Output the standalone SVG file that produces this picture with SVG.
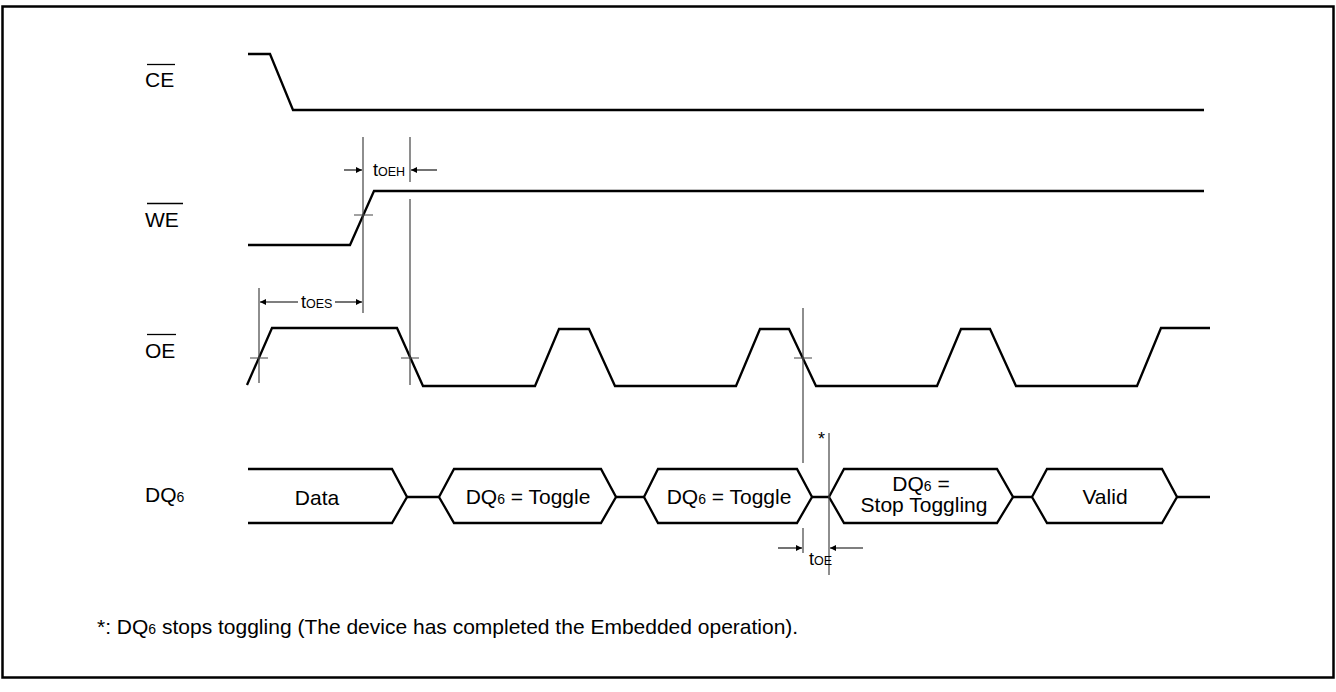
<svg xmlns="http://www.w3.org/2000/svg" width="1336" height="692" viewBox="0 0 1336 692">
<style>
  .sig{fill:none;stroke:#000;stroke-width:2.3;stroke-linejoin:miter}
  .thin{fill:none;stroke:#444;stroke-width:1.2}
  .arr{fill:none;stroke:#000;stroke-width:1.1}
  .lbl{font-family:"Liberation Sans",Arial,sans-serif;font-size:21px;fill:#000}
  .sub{font-size:14px}
  .t{font-family:"Liberation Sans",Arial,sans-serif;font-size:18px;fill:#000}
  .ts{font-size:12.5px}
  .ol{stroke:#000;stroke-width:1.3}
</style>
<defs>
  <marker id="ah" viewBox="0 0 10 10" refX="10" refY="5" markerWidth="8" markerHeight="6" markerUnits="userSpaceOnUse" orient="auto">
    <path d="M0,0 L10,5 L0,10 z" fill="#000"/>
  </marker>
</defs>
<rect x="2.5" y="6.5" width="1331" height="671" fill="#fff" stroke="#000" stroke-width="2.5"/>

<g id="label-ce">
  <text class="lbl" x="145" y="87">CE</text>
  <line class="ol" x1="147" y1="64.5" x2="175" y2="64.5"/>
</g>
<g id="label-we">
  <text class="lbl" x="145" y="227">WE</text>
  <line class="ol" x1="147" y1="203.5" x2="183" y2="203.5"/>
</g>
<g id="label-oe">
  <text class="lbl" x="145" y="358">OE</text>
  <line class="ol" x1="147" y1="334.5" x2="176" y2="334.5"/>
</g>
<g id="label-dq6">
  <text class="lbl" x="145" y="502">DQ<tspan class="sub">6</tspan></text>
</g>

<g id="wave-ce"><path class="sig" d="M248,54 H270 L293,110 H1204"/></g>
<g id="wave-we"><path class="sig" d="M248,245 H350 L374,191 H1204"/></g>
<g id="wave-oe"><path class="sig" d="M247,385 L272,328 H397 L423,386 H535 L559,329 H589 L615,386 H736 L760,329 H789 L816,386 H937 L961,329 H990 L1016,386 H1137 L1161,328 H1210"/></g>

<g id="bus-dq6">
  <g id="seg-data">
    <path class="sig" d="M248,469 H392 L407,497 L392,523 H248"/>
    <text class="lbl" x="317" y="505" text-anchor="middle">Data</text>
  </g>
  <g id="seg-toggle1">
    <path class="sig" d="M439,497 L454,469 H601 L616,497 L601,523 H454 Z"/>
    <text class="lbl" x="528" y="504" text-anchor="middle">DQ<tspan class="sub">6</tspan> = Toggle</text>
  </g>
  <g id="seg-toggle2">
    <path class="sig" d="M644,497 L658,469 H797 L812,497 L797,523 H658 Z"/>
    <text class="lbl" x="729" y="504" text-anchor="middle">DQ<tspan class="sub">6</tspan> = Toggle</text>
  </g>
  <g id="seg-stop">
    <path class="sig" d="M829,497 L844,469 H997 L1013,497 L997,523 H844 Z"/>
    <text class="lbl" x="921" y="491" text-anchor="middle">DQ<tspan class="sub">6</tspan> =</text>
    <text class="lbl" x="924" y="512" text-anchor="middle">Stop Toggling</text>
  </g>
  <g id="seg-valid">
    <path class="sig" d="M1032,497 L1047,469 H1162 L1177,497 L1162,523 H1047 Z"/>
    <text class="lbl" x="1105" y="504" text-anchor="middle">Valid</text>
  </g>
</g>

<g id="connectors">
  <path class="sig" d="M407,497 H439 M616,497 H644 M812,497 H829 M1013,497 H1032 M1177,497 H1210"/>
  <!-- timing reference lines -->
  <path class="thin" d="M363,137 V313 M410,137 V182 M410,199 V385 M259,288 V383 M803,308 V463 M803,528 V553 M829,433 V575"/>
  <!-- crossing ticks -->
  <path class="thin" d="M354,215 H373 M250,358 H268 M401,358 H419 M794,358 H812"/>
  <!-- arrows -->
  <line class="arr" x1="344" y1="170" x2="362" y2="170" marker-end="url(#ah)"/>
  <line class="arr" x1="437" y1="170" x2="411" y2="170" marker-end="url(#ah)"/>
  <line class="arr" x1="298" y1="302" x2="260" y2="302" marker-end="url(#ah)"/>
  <line class="arr" x1="335" y1="302" x2="362" y2="302" marker-end="url(#ah)"/>
  <line class="arr" x1="778" y1="548" x2="802" y2="548" marker-end="url(#ah)"/>
  <line class="arr" x1="863" y1="548" x2="830" y2="548" marker-end="url(#ah)"/>
</g>

<g id="timing-labels">
  <text class="t" x="373" y="176">t<tspan class="ts">OEH</tspan></text>
  <text class="t" x="301" y="308">t<tspan class="ts">OES</tspan></text>
  <text class="t" x="809" y="565">t<tspan class="ts">OE</tspan></text>
  <text class="t" x="818" y="445" font-size="16">*</text>
</g>

<g id="footnote">
  <text class="lbl" x="97" y="634">*: DQ<tspan class="sub">6</tspan> stops toggling (The device has completed the Embedded operation).</text>
</g>
</svg>
